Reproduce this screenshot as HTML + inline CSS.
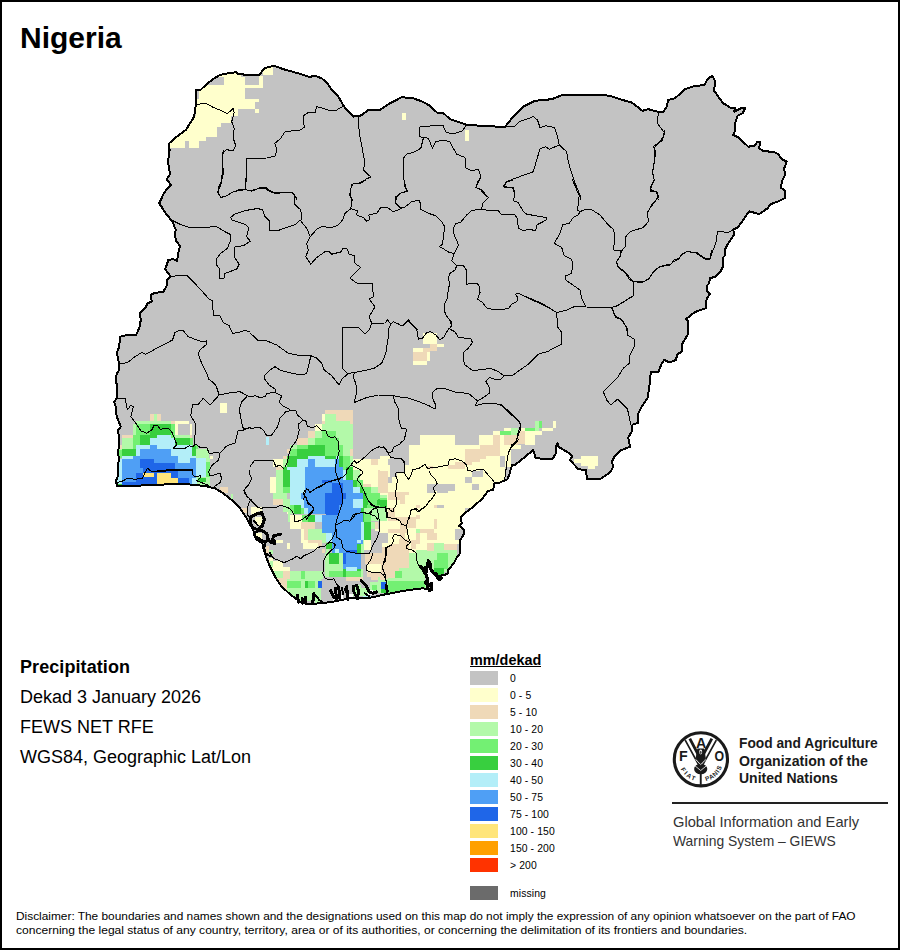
<!DOCTYPE html>
<html><head><meta charset="utf-8"><title>Nigeria</title>
<style>
html,body{margin:0;padding:0;background:#fff;}
body{width:900px;height:950px;position:relative;overflow:hidden;font-family:"Liberation Sans",sans-serif;color:#000;}
.frame{position:absolute;left:0;top:0;width:896px;height:946px;border:2px solid #000;}
.t{position:absolute;white-space:nowrap;}
.title{left:20px;top:19.5px;font-size:30px;font-weight:bold;line-height:36px;}
.info{left:20px;font-size:18px;line-height:22px;letter-spacing:0;}
.lh{left:470px;top:652px;font-size:14.4px;font-weight:bold;line-height:16px;}
.lhu{position:absolute;left:470px;top:666px;width:71px;height:1px;background:#000;}
.sw{position:absolute;left:470px;width:28px;height:14px;}
.ll{position:absolute;left:510px;font-size:10.4px;letter-spacing:0.1px;line-height:13px;white-space:nowrap;}
.fao{left:739px;font-size:14px;font-weight:bold;line-height:18px;color:#1a1a1a;transform-origin:0 0;}
.gi{left:672.8px;font-size:14.6px;line-height:18px;color:#333;transform-origin:0 0;}
.rule{position:absolute;left:672px;top:802px;width:216px;height:2px;background:#222;}
.disc{left:15px;font-size:11px;line-height:14px;color:#000;transform-origin:0 0;}
svg{position:absolute;left:0;top:0;}
</style></head><body>
<svg width="900" height="950" viewBox="0 0 900 950">
<defs><clipPath id="cp"><path d="M116.7 486.3 L116.3 480 L118.3 475 L117.5 466.7 L119.2 458.3 L117.5 453.3 L119.2 446.7 L118.3 430 L120.8 426.7 L116.7 416.7 L115.8 406.7 L114.2 401.7 L116.7 398.3 L117.5 388.3 L115.8 380 L116.7 373.3 L119.2 370 L118.3 358.3 L116.7 353.3 L119.2 346.7 L120 336.7 L127.5 335 L135.8 335.3 L139.2 328.3 L140.8 320 L140 313.3 L145 308.3 L147.5 303.3 L151.7 301.7 L150.8 295 L154.2 293 L163.3 291.7 L166.7 285.8 L167.5 279.2 L170 276.7 L169.2 274.2 L165 269.2 L166.7 265 L168.3 260 L173.3 259.2 L177 260.8 L178.3 253.3 L180 245.8 L175.8 240.8 L175 233.3 L175.8 230 L172.5 221.7 L165.8 213.3 L159.2 203.3 L164.2 192.5 L170.8 185 L166.7 179.2 L170 174.2 L168 161.7 L169.7 150 L168.7 150 L169.2 143.3 L176.7 136.7 L185.8 130 L194.2 116.7 L195.8 105 L195.8 90 L200.8 89.7 L207.5 83.3 L214.2 78.3 L220 75 L228.3 73.3 L236.7 72.2 L238.3 74.2 L246.7 74.7 L259.2 74.7 L265 68 L274.2 65.8 L283.3 69.2 L300 73.8 L309.2 77 L315 75.8 L321.7 78.3 L327.5 83.3 L331.7 90 L338.3 96.7 L344.2 106.7 L353.3 116.7 L361.7 115.3 L368.3 109.7 L380 109.7 L390 103.3 L401.7 97.2 L413.3 98.3 L421.7 101.3 L430 105.8 L437.5 113 L443.3 113 L450 119.2 L465.8 124.5 L485 126.3 L505 126.7 L513.3 116.7 L523.3 106.7 L535 100.8 L551.7 99.2 L561.7 95.3 L576.7 94.7 L600 94.7 L610 95.8 L620 99.2 L631.7 102.5 L642.5 110.8 L648.3 109.2 L657.5 111.7 L663.3 111.7 L666.7 106.7 L668.3 100 L675 98.3 L685 89.2 L693.3 86.3 L704.2 85 L708.3 78.3 L712.5 75.8 L715 80.8 L714.2 90.8 L718.3 96.7 L723.3 103.3 L730 107.5 L735 108.3 L734.2 111.7 L740.8 108.3 L745 108.3 L742.5 113.3 L737.5 115.8 L735 123.3 L734.7 131.7 L733.3 135 L738.3 137.5 L748.3 146.7 L754.2 145.8 L757.5 141.7 L760 142 L759.2 148.3 L763.3 151.3 L773.3 151.7 L778.3 154.2 L781.7 159.2 L786.7 161.7 L784.2 168.3 L785 175 L782.5 180 L780.8 187.5 L785 190.8 L784.7 198.3 L778.3 201.3 L770.8 204.2 L767.5 208.3 L759.2 214.2 L749.2 211.2 L743.3 220 L737.5 227.5 L733.3 229.7 L734.2 234.2 L728.3 243.3 L725 249.2 L725.3 255 L722.5 258.3 L723 266.7 L720 272.5 L715 276.7 L710 278.3 L709.2 283.3 L706.7 285.8 L706.7 290.8 L710 294.2 L706.7 298.3 L705.8 308.3 L695 312 L685.8 319.2 L688.3 321.7 L687.5 335 L682.5 343.3 L681.7 351.7 L677.5 354.2 L675.8 360 L670 362.5 L664.2 360 L661.7 363.3 L658.3 372.5 L650.8 371.7 L649.2 388.3 L647.5 396.7 L648.3 396.7 L641.7 406.7 L637.5 415 L638 423 L632.5 424.7 L631.7 431.7 L628.3 437.5 L630 446.7 L620 450.8 L615 455.8 L611.7 461.7 L613.3 466.7 L610 472.5 L605 475.8 L600 479.2 L586.7 479.2 L586.3 470 L578.3 469.2 L570 460 L572.5 455.8 L566.7 451.7 L558.3 446.7 L557.5 443 L555.8 446.7 L555.8 453.3 L552.5 459.2 L535.8 458.3 L533.3 450 L523.3 458.3 L515 465 L512 465 L509.2 475 L507.5 479.2 L500 482.5 L494.2 483.3 L493.3 490 L488.3 490.8 L481.7 499.2 L473.3 506.7 L466.7 511.7 L460.8 517.5 L461.7 523.3 L459.2 525.8 L464.2 530 L463.3 535.8 L460 540 L460 553.3 L456.7 557.5 L454.2 562.5 L448.3 570 L447.5 574.2 L442.5 575 L436.7 576.7 L431.7 571.7 L430 563.3 L428.3 560.8 L427.5 566.7 L421.7 568.3 L424.2 573.3 L428.3 578.3 L427.5 583.3 L431.7 585 L431.7 590 L423.3 588.3 L408.3 590 L390.8 593.3 L385.8 594.2 L375 596.7 L366.7 598.3 L355 598.3 L350 598.3 L333.3 601.7 L320 603.3 L306.7 604.2 L300 601.7 L290 594.2 L281.7 586.7 L275 576.7 L270 566.7 L266.7 558.3 L263.3 548.3 L261.7 540 L255 535.8 L253.3 530 L249.2 523.3 L246.7 518.3 L240 508.3 L231.7 500 L223.3 493.3 L215 488.3 L203.3 485.8 L186.7 484.2 L170 484.2 L155 485 L133.3 485.8 L116.7 486.3 Z"/></clipPath></defs>
<path d="M116.7 486.3 L116.3 480 L118.3 475 L117.5 466.7 L119.2 458.3 L117.5 453.3 L119.2 446.7 L118.3 430 L120.8 426.7 L116.7 416.7 L115.8 406.7 L114.2 401.7 L116.7 398.3 L117.5 388.3 L115.8 380 L116.7 373.3 L119.2 370 L118.3 358.3 L116.7 353.3 L119.2 346.7 L120 336.7 L127.5 335 L135.8 335.3 L139.2 328.3 L140.8 320 L140 313.3 L145 308.3 L147.5 303.3 L151.7 301.7 L150.8 295 L154.2 293 L163.3 291.7 L166.7 285.8 L167.5 279.2 L170 276.7 L169.2 274.2 L165 269.2 L166.7 265 L168.3 260 L173.3 259.2 L177 260.8 L178.3 253.3 L180 245.8 L175.8 240.8 L175 233.3 L175.8 230 L172.5 221.7 L165.8 213.3 L159.2 203.3 L164.2 192.5 L170.8 185 L166.7 179.2 L170 174.2 L168 161.7 L169.7 150 L168.7 150 L169.2 143.3 L176.7 136.7 L185.8 130 L194.2 116.7 L195.8 105 L195.8 90 L200.8 89.7 L207.5 83.3 L214.2 78.3 L220 75 L228.3 73.3 L236.7 72.2 L238.3 74.2 L246.7 74.7 L259.2 74.7 L265 68 L274.2 65.8 L283.3 69.2 L300 73.8 L309.2 77 L315 75.8 L321.7 78.3 L327.5 83.3 L331.7 90 L338.3 96.7 L344.2 106.7 L353.3 116.7 L361.7 115.3 L368.3 109.7 L380 109.7 L390 103.3 L401.7 97.2 L413.3 98.3 L421.7 101.3 L430 105.8 L437.5 113 L443.3 113 L450 119.2 L465.8 124.5 L485 126.3 L505 126.7 L513.3 116.7 L523.3 106.7 L535 100.8 L551.7 99.2 L561.7 95.3 L576.7 94.7 L600 94.7 L610 95.8 L620 99.2 L631.7 102.5 L642.5 110.8 L648.3 109.2 L657.5 111.7 L663.3 111.7 L666.7 106.7 L668.3 100 L675 98.3 L685 89.2 L693.3 86.3 L704.2 85 L708.3 78.3 L712.5 75.8 L715 80.8 L714.2 90.8 L718.3 96.7 L723.3 103.3 L730 107.5 L735 108.3 L734.2 111.7 L740.8 108.3 L745 108.3 L742.5 113.3 L737.5 115.8 L735 123.3 L734.7 131.7 L733.3 135 L738.3 137.5 L748.3 146.7 L754.2 145.8 L757.5 141.7 L760 142 L759.2 148.3 L763.3 151.3 L773.3 151.7 L778.3 154.2 L781.7 159.2 L786.7 161.7 L784.2 168.3 L785 175 L782.5 180 L780.8 187.5 L785 190.8 L784.7 198.3 L778.3 201.3 L770.8 204.2 L767.5 208.3 L759.2 214.2 L749.2 211.2 L743.3 220 L737.5 227.5 L733.3 229.7 L734.2 234.2 L728.3 243.3 L725 249.2 L725.3 255 L722.5 258.3 L723 266.7 L720 272.5 L715 276.7 L710 278.3 L709.2 283.3 L706.7 285.8 L706.7 290.8 L710 294.2 L706.7 298.3 L705.8 308.3 L695 312 L685.8 319.2 L688.3 321.7 L687.5 335 L682.5 343.3 L681.7 351.7 L677.5 354.2 L675.8 360 L670 362.5 L664.2 360 L661.7 363.3 L658.3 372.5 L650.8 371.7 L649.2 388.3 L647.5 396.7 L648.3 396.7 L641.7 406.7 L637.5 415 L638 423 L632.5 424.7 L631.7 431.7 L628.3 437.5 L630 446.7 L620 450.8 L615 455.8 L611.7 461.7 L613.3 466.7 L610 472.5 L605 475.8 L600 479.2 L586.7 479.2 L586.3 470 L578.3 469.2 L570 460 L572.5 455.8 L566.7 451.7 L558.3 446.7 L557.5 443 L555.8 446.7 L555.8 453.3 L552.5 459.2 L535.8 458.3 L533.3 450 L523.3 458.3 L515 465 L512 465 L509.2 475 L507.5 479.2 L500 482.5 L494.2 483.3 L493.3 490 L488.3 490.8 L481.7 499.2 L473.3 506.7 L466.7 511.7 L460.8 517.5 L461.7 523.3 L459.2 525.8 L464.2 530 L463.3 535.8 L460 540 L460 553.3 L456.7 557.5 L454.2 562.5 L448.3 570 L447.5 574.2 L442.5 575 L436.7 576.7 L431.7 571.7 L430 563.3 L428.3 560.8 L427.5 566.7 L421.7 568.3 L424.2 573.3 L428.3 578.3 L427.5 583.3 L431.7 585 L431.7 590 L423.3 588.3 L408.3 590 L390.8 593.3 L385.8 594.2 L375 596.7 L366.7 598.3 L355 598.3 L350 598.3 L333.3 601.7 L320 603.3 L306.7 604.2 L300 601.7 L290 594.2 L281.7 586.7 L275 576.7 L270 566.7 L266.7 558.3 L263.3 548.3 L261.7 540 L255 535.8 L253.3 530 L249.2 523.3 L246.7 518.3 L240 508.3 L231.7 500 L223.3 493.3 L215 488.3 L203.3 485.8 L186.7 484.2 L170 484.2 L155 485 L133.3 485.8 L116.7 486.3 Z" fill="#c3c3c3"/>
<g clip-path="url(#cp)" shape-rendering="crispEdges">
<path d="M136 421H171.3V424.3H136ZM122 437.7H133.3V449H122ZM196 449H206V458.3H196ZM206 458.3H210V486.3H206ZM154 414.3H157.3V421H154ZM119.3 449H122V458.3H119.3ZM195.3 477H206V486.3H195.3ZM175.3 435H190V438.3H175.3ZM133.3 424.3H136V435H133.3ZM206 449H209.3V458.3H206Z" fill="#b3f9a9"/>
<path d="M150 414.3H154V421H150ZM157.3 414.3H160.7V421H157.3ZM171.3 421H174.7V424.3H171.3ZM122 435H133.3V437.7H122ZM190 435H192V438.3H190ZM119.3 445H122V449H119.3Z" fill="#efd9b8"/>
<path d="M174.7 421H188.7V424.3H174.7ZM175.3 424.3H178V435H175.3ZM190 424.3H192V435H190ZM210 455.7H213.3V459H210Z" fill="#ffffcc"/>
<path d="M136 424.3H150V435H136ZM133.3 435H140V445H133.3ZM171.3 424.3H175.3V438.3H171.3ZM190 438.3H192.7V446.3H190ZM206 462.3H210V477H206ZM195.3 445H198V449H195.3ZM133.3 445H136V449H133.3ZM119.3 450.3H122V458.3H119.3Z" fill="#73f073"/>
<path d="M150 424.3H171.3V430.3H150ZM150 430.3H156.7V438.3H150ZM140 435H150V445H140ZM156.7 430.3H171.3V435H156.7ZM122 449H136V456.3H122ZM175.3 438.3H190V445H175.3ZM192 446.3H196V456.3H192ZM198 477.7H206V482.3H198ZM116.7 483.7H122V486.3H116.7Z" fill="#38cf3f"/>
<path d="M150 438.3H156.7V445H150ZM156.7 435H171.3V445H156.7ZM171.3 438.3H175.3V449H171.3ZM136 445H150V449H136ZM136 449H140V456.3H136ZM122 456.3H133.3V459H122ZM171.3 445H192V456.3H171.3ZM192 456.3H196V458.3H192ZM178 456.3H190V463H178ZM196 458.3H206V477H196ZM116.7 459H122V483.7H116.7ZM192 477.7H196.7V483.7H192ZM156.7 445H171.3V449H156.7Z" fill="#b3eef8"/>
<path d="M150 445H156.7V449H150ZM140 449H171.3V456.3H140ZM133.3 456.3H178V459H133.3ZM122 459H140V482.3H122ZM154 459H178V463H154ZM175.3 463H196V477.7H175.3ZM190 458.3H196V463H190ZM140 467.7H143.3V473H140ZM188.7 477.7H192V483.7H188.7Z" fill="#4f9ff5"/>
<path d="M140 459H154V467.7H140ZM154 463H175.3V470.3H154ZM143.3 467.7H154V473H143.3ZM136 473H143.3V485.7H136ZM143.3 477H157.3V485.7H143.3ZM171.3 470.3H178V477.7H171.3ZM178 477.7H188.7V483.7H178ZM122 482.3H157.3V486.3H122ZM154 470.3H171.3V473H154Z" fill="#1f66e8"/>
<path d="M143.3 473H154V477H143.3ZM157.3 473H171.3V483.7H157.3ZM171.3 477.7H178V483.7H171.3Z" fill="#ffe57a"/>
<path d="M154 473H157.3V477H154Z" fill="#1f66e8"/>
<path d="M190 456.3H192V458.3H190Z" fill="#b3eef8"/>
<path d="M220 402.5H227V413.3H220Z" fill="#ffffcc"/>
<path d="M220 486.7H227.5V493.3H220ZM241.7 507.5H247.5V513.3H241.7Z" fill="#efd9b8"/>
<path d="M230.8 494.2H233.3V500H230.8Z" fill="#b3f9a9"/>
<path d="M352.7 459.3H390V485.3H352.7ZM381.3 456H390V459.3H381.3ZM363.3 485.3H378V488H363.3Z" fill="#ffffcc"/>
<path d="M371.3 459.3H378V465.3H371.3ZM378 470H381.3V482.7H378ZM388 477.3H390V484H388ZM363.3 484H371.3V486.7H363.3ZM378 482.7H387.3V493.3H378Z" fill="#efd9b8"/>
<path d="M388 459.3H390V465.3H388Z" fill="#c3c3c3"/>
<path d="M325.3 414H352.7V456H325.3ZM322 424H352.7V430.7H322ZM315.3 430.7H352.7V445.3H315.3ZM308 438H315.3V445.3H308ZM290 445.3H297.3V456H290ZM283.3 456H290V466.7H283.3ZM276 466.7H283.3V498.7H276ZM272.7 493.3H286.7V498.7H272.7ZM283.3 498.7H290V512H283.3ZM342.7 445.3H352.7V459.3H342.7ZM350 459.3H352.7V466.7H350ZM352.7 470H356.7V480H352.7ZM371.3 486.7H378V493.3H371.3ZM380.7 493.3H387.3V498.7H380.7ZM290 512H294V520H290ZM363.3 512H376.7V520H363.3ZM356.7 470H360V480H356.7Z" fill="#b3f9a9"/>
<path d="M322 414H325.3V420.7H322ZM314.7 424H322V430.7H314.7ZM272.7 459.3H283.3V466.7H272.7ZM270 477.3H276V493.3H270ZM286.7 512H290V520H286.7ZM297.3 514.7H301.3V520H297.3Z" fill="#ffffcc"/>
<path d="M325.3 410H352.7V414H325.3ZM336 414H352.7V420.7H336ZM350 420.7H352.7V424H350ZM322 420.7H325.3V424H322ZM308 430.7H315.3V438H308ZM297.3 438H308V445.3H297.3ZM287.3 449.3H290V452.7H287.3ZM283.3 456H287.3V459.3H283.3ZM350 449.3H352.7V456H350ZM276 466.7H283.3V470H276ZM272.7 498.7H283.3V505.3H272.7Z" fill="#efd9b8"/>
<path d="M322 430.7H336V438H322ZM315.3 438H339.3V445.3H315.3ZM297.3 445.3H308V449.3H297.3ZM290 449.3H297.3V456H290ZM325.3 445.3H342.7V456H325.3ZM342.7 456H350V466.7H342.7ZM342.7 466.7H346V470H342.7ZM356.7 480H363.3V486.7H356.7ZM363.3 486.7H371.3V493.3H363.3ZM367.3 493.3H380.7V498.7H367.3ZM368 498.7H387.3V505.3H368ZM367.3 505.3H376.7V512H367.3ZM290 505.3H300.7V512H290ZM294 512H301.3V514.7H294ZM294 514.7H297.3V520H294ZM283.3 486.7H290V493.3H283.3ZM376.7 505.3H387.3V512H376.7Z" fill="#73f073"/>
<path d="M308 445.3H325.3V456H308ZM297.3 449.3H308V456H297.3ZM287.3 456H308V459.3H287.3ZM287.3 459.3H297.3V466.7H287.3ZM283.3 466.7H287.3V486.7H283.3ZM287.3 470H290V486.7H287.3ZM325.3 456H336V459.3H325.3ZM339.3 456H342.7V466.7H339.3ZM346 466.7H352.7V480H346ZM352.7 480H356.7V486.7H352.7ZM360 486.7H363.3V493.3H360ZM363.3 493.3H367.3V498.7H363.3ZM363.3 498.7H368V505.3H363.3ZM360.7 505.3H367.3V512H360.7ZM378 498.7H380.7V505.3H378ZM308 514.7H315.3V520H308ZM360.7 512H363.3V520H360.7Z" fill="#38cf3f"/>
<path d="M308 456H325.3V459.3H308ZM297.3 459.3H308V466.7H297.3ZM315.3 459.3H335.3V466.7H315.3ZM287.3 466.7H304.7V470H287.3ZM290 470H308V480H290ZM290 480H304.7V498.7H290ZM290 498.7H304V505.3H290ZM300.7 505.3H304V512H300.7ZM304 512H308V520H304ZM315.3 514.7H322V520H315.3ZM336 456H339.3V459.3H336ZM339.3 466.7H342.7V470H339.3ZM342.7 470H346V480H342.7ZM346 480H352.7V483.3H346ZM352.7 486.7H360V493.3H352.7ZM352.7 498.7H363.3V508H352.7Z" fill="#b3eef8"/>
<path d="M308 459.3H315.3V466.7H308ZM304.7 466.7H342.7V480H304.7ZM335.3 459.3H339.3V466.7H335.3ZM304.7 480H352.7V486.7H304.7ZM304.7 486.7H352.7V498.7H304.7ZM301.3 493.3H304.7V498.7H301.3ZM304 498.7H352.7V520H304ZM352.7 493.3H363.3V498.7H352.7ZM352.7 508H360.7V520H352.7Z" fill="#4f9ff5"/>
<path d="M322 480H332V483.3H322ZM332 483.3H342.7V493.3H332ZM325.3 493.3H346V498.7H325.3ZM325.3 498.7H342.7V505.3H325.3ZM325.3 505.3H339.3V520H325.3Z" fill="#1f66e8"/>
<path d="M308 514.7H315.3V520H308Z" fill="#38cf3f"/>
<path d="M315.3 514.7H322V520H315.3Z" fill="#b3eef8"/>
<path d="M287.3 514.7H301.3V540H287.3ZM301.3 528.7H323.3V549.3H301.3ZM287.3 542.7H290V549.3H287.3ZM278 539.3H283.3V542.7H278ZM270 560.7H290V570.7H270ZM363.3 540H371.3V550H363.3ZM374.7 528.7H379.3V537.3H374.7ZM380.7 538.7H390V549.3H380.7ZM387.3 517.3H390V533.3H387.3ZM367.3 564H380.7V572H367.3Z" fill="#ffffcc"/>
<path d="M272.7 500H283.3V505.3H272.7ZM301.3 522H315.3V528.7H301.3ZM308 540H318V543.3H308ZM283.3 570.7H290V578.7H283.3ZM276 578H287.3V592H276ZM301.3 588.7H308V593.3H301.3ZM328.7 567.3H339.3V570.7H328.7ZM346 577.3H363.3V581.3H346ZM364.7 553.3H390V564H364.7ZM380.7 564H390V580H380.7ZM371.3 522H378V528.7H371.3ZM322 549.3H325.3V553.3H322ZM387.3 505.3H390V517.3H387.3ZM367.3 572H380.7V580H367.3ZM384.7 548H390V556H384.7Z" fill="#efd9b8"/>
<path d="M308 528.7H322V540H308ZM270 570.7H283.3V578H270ZM290 570.7H323.3V578.7H290ZM287.3 578.7H323.3V601.3H287.3ZM283.3 592H287.3V598.7H283.3ZM325.3 553.3H342.7V577.3H325.3ZM342.7 569.3H363.3V577.3H342.7ZM363.3 508H380.7V521.3H363.3ZM380.7 513.3H387.3V521.3H380.7ZM360.7 540H364V553.3H360.7ZM378 577.3H390V593.3H378ZM283.3 500H290V505.3H283.3ZM290 514.7H295.3V518.7H290ZM325.3 544H328.7V553.3H325.3ZM352.7 585.3H360.7V596H352.7ZM314.7 597.3H323.3V602.7H314.7ZM371.3 522H374.7V528.7H371.3Z" fill="#b3f9a9"/>
<path d="M287.3 581.3H301.3V588H287.3ZM308 581.3H315.3V588H308ZM328.7 570.7H342.7V577.3H328.7ZM346 570.7H360.7V577.3H346ZM364 513.3H371.3V522H364ZM290 505.3H294V508H290ZM301.3 508H304V518.7H301.3ZM301.3 514.7H308V518.7H301.3ZM380.7 500H387.3V513.3H380.7ZM378 585.3H387.3V593.3H378ZM301.3 570.7H304.7V578.7H301.3Z" fill="#73f073"/>
<path d="M294 505.3H301.3V514.7H294ZM308 514.7H315.3V522H308ZM322 522H325.3V540H322ZM328.7 553.3H339.3V564H328.7ZM304.7 581.3H308V588H304.7ZM364 522H371.3V540H364ZM360.7 508H364V522H360.7ZM357.3 542.7H360.7V553.3H357.3ZM342.7 564H346V577.3H342.7ZM325.3 542.7H332V549.3H325.3ZM357.3 567.3H360.7V570.7H357.3ZM376.7 500H380.7V505.3H376.7Z" fill="#38cf3f"/>
<path d="M371.3 530.7H380.7V553.3H371.3ZM380.7 533.3H387.3V538.7H380.7ZM283.3 550.7H323.3V570.7H283.3ZM320.7 578.7H336.7V601.3H320.7ZM339.3 577.3H346V582.7H339.3ZM363.3 577.3H371.3V582.7H363.3Z" fill="#c3c3c3"/>
<path d="M304 500H314V508H304ZM308 508H314V514.7H308ZM314 500H325.3V514.7H314ZM322 514.7H339.3V533.3H322ZM332 533.3H339.3V544H332ZM335.3 512H363.3V544H335.3ZM339.3 544H357.3V553.3H339.3ZM342.7 553.3H360.7V569.3H342.7ZM352.7 508H360.7V512H352.7Z" fill="#4f9ff5"/>
<path d="M290 500H304V505.3H290ZM304 508H308V514.7H304ZM352.7 500H363.3V508H352.7ZM315.3 514.7H322V522H315.3ZM325.3 533.3H332V541.3H325.3ZM360.7 522H364V540H360.7ZM332.7 549.3H339.3V553.3H332.7ZM346 567.3H356.7V570.7H346ZM357.3 540H360.7V542.7H357.3Z" fill="#b3eef8"/>
<path d="M325.3 500H339.3V514.7H325.3ZM342.7 553.3H346V564H342.7ZM346 550H356.7V553.3H346ZM318 581.3H322V588H318ZM381.3 582H387.3V588.7H381.3Z" fill="#1f66e8"/>
<path d="M332 533.3H339.3V549.3H332Z" fill="#4f9ff5"/>
<path d="M420 435.3H454.7V446H420ZM408.7 445.3H465.3V520H408.7ZM462.7 448.7H479.3V520H462.7ZM465.3 445.3H479.3V448.7H465.3ZM479.3 435.3H493.3V520H479.3ZM493.3 431.3H500V482.7H493.3ZM405.3 465.3H408.7V520H405.3ZM397.3 472.7H405.3V520H397.3ZM380 456H388V520H380ZM388 486.7H397.3V520H388ZM388 483.3H397.3V486.7H388ZM392 476.7H397.3V483.3H392Z" fill="#ffffcc"/>
<path d="M465.3 448.7H493.3V458.7H465.3ZM493.3 435.3H500V453.3H493.3ZM486 445.3H493.3V448.7H486ZM472 458.7H486V462H472ZM465.3 458.7H472V465.3H465.3ZM455.3 462H465.3V469.3H455.3ZM448 465.3H455.3V469.3H448ZM428 466H433.3V469.3H428ZM380 470.7H388V493.3H380ZM388 492H397.3V505.3H388ZM397.3 492H408.7V494.7H397.3ZM397.3 494.7H405.3V505.3H397.3ZM416 505.3H420V508H416ZM434 505.3H437.3V508H434ZM416 514.7H420V518.7H416ZM388 512H394.7V520H388Z" fill="#efd9b8"/>
<path d="M427.3 484H434.7V493.3H427.3ZM434.7 484H454.7V490.7H434.7ZM437.3 490.7H448V493.3H437.3ZM465.3 477.3H472V483.3H465.3ZM472 470.7H482.7V476.7H472ZM472 484H478.7V490H472ZM437.3 505.3H444V508H437.3ZM465.3 508H468.7V511.3H465.3ZM388 477.3H392V483.3H388Z" fill="#c3c3c3"/>
<path d="M380 494.7H387.3V498H380ZM380 508H387.3V520H380Z" fill="#b3f9a9"/>
<path d="M380 498H387.3V501.3H380Z" fill="#73f073"/>
<path d="M380 501.3H387.3V508H380Z" fill="#38cf3f"/>
<path d="M387.3 500H481.3V544H387.3ZM380 521.3H388V532.7H380ZM416 544H426.7V550H416ZM434 540H444V544H434ZM408.7 544H416V553.3H408.7Z" fill="#ffffcc"/>
<path d="M388 508H394.7V517.3H388ZM388 517.3H406.7V521.3H388ZM400 521.3H406.7V533.3H400ZM406.7 517.3H416V528H406.7ZM416 514.7H420V518.7H416ZM434 519.3H437.3V528.7H434ZM420 528.7H434V533.3H420ZM426.7 533.3H437.3V540H426.7ZM416 533.3H420V544H416ZM410.7 540H416V549.3H410.7ZM426.7 542.7H434V549.3H426.7ZM444 544H457.3V553.3H444ZM434 504.7H437.3V508H434ZM416 504.7H420V508H416ZM388 528.7H400V533.3H388ZM400 533.3H405.3V538.7H400ZM386 546.7H408.7V578.7H386ZM398.7 538.7H408.7V546.7H398.7ZM380 572H386V580H380ZM400 500H405.3V504H400Z" fill="#efd9b8"/>
<path d="M380 532.7H388V542.7H380ZM380 542.7H382V553.3H380ZM437.3 504.7H444V508H437.3ZM465.3 508H468.7V511.3H465.3ZM455.3 528.7H463.3V540H455.3Z" fill="#c3c3c3"/>
<path d="M380 508H387.3V521.3H380ZM416 528.7H420V532.7H416ZM434 542.7H444V553.3H434ZM420 550H457.3V560H420ZM416 553.3H433.3V569.3H416ZM408.7 553.3H425.3V582.7H408.7ZM398.7 568H425.3V582.7H398.7ZM388 578H398.7V582H388ZM433.3 560H454.7V572H433.3ZM422.7 580H428V588H422.7Z" fill="#b3f9a9"/>
<path d="M437.3 553.3H448V560H437.3ZM434 560H448V569.3H434ZM388 581.3H425.3V589.3H388ZM394.7 570.7H402V578H394.7ZM380 506.7H387.3V508H380Z" fill="#73f073"/>
<path d="M434 568H444V574.7H434ZM380 588.7H386.7V593.3H380ZM380 500H387.3V506.7H380Z" fill="#38cf3f"/>
<path d="M381.3 582H387.3V588.7H381.3Z" fill="#1f66e8"/>
<path d="M390 544H398.7V546.7H390ZM382 546.7H386V553.3H382ZM426.7 548.7H434V550.7H426.7Z" fill="#efd9b8"/>
<path d="M416 550H420V553.3H416Z" fill="#b3f9a9"/>
<path d="M382 542.7H386V546.7H382Z" fill="#ffffcc"/>
<path d="M388 588.7H425.3V593.3H388Z" fill="#73f073"/>
<path d="M493.3 431.3H500V434.7H493.3ZM504 428H511.3V431.3H504ZM480 434.7H493.3V445.3H480ZM500 434.7H504V445.3H500ZM521.3 428H525.3V431.3H521.3ZM525.3 431.3H542V434.7H525.3ZM525.3 434.7H534.7V445.3H525.3ZM542 428H553.3V431.3H542ZM552.7 420.7H556V428H552.7ZM511.3 445.3H521.3V448.7H511.3ZM500 448.7H511.3V456H500ZM486 456H500V466.7H486ZM505.3 456H511.3V466.7H505.3ZM480 458.7H486V469.3H480ZM480 466.7H505.3V480H480ZM493.3 477.3H505.3V482.7H493.3ZM480 477.3H493.3V500H480ZM574 458.7H581.3V462.7H574ZM581.3 456H598V466H581.3ZM588 466H594.7V469.3H588Z" fill="#ffffcc"/>
<path d="M493.3 434.7H500V445.3H493.3ZM504 434.7H518V445.3H504ZM518 431.3H525.3V444H518ZM480 445.3H500V456H480ZM480 456H486V458.7H480Z" fill="#efd9b8"/>
<path d="M500 431.3H511.3V434.7H500ZM525.3 428H534.7V431.3H525.3ZM538.7 421.3H542V428H538.7Z" fill="#73f073"/>
<path d="M511.3 428H518V434.7H511.3ZM535.3 421.3H538.7V430.7H535.3Z" fill="#b3f9a9"/>
<path d="M480 470H482.7V476.7H480ZM504.7 470H509.3V478.7H504.7Z" fill="#c3c3c3"/>
<path d="M423.3 332.5H436.7V344.2H423.3ZM436.7 344.2H444.2V346.7H436.7ZM413.3 347.5H423.3V351.7H413.3ZM413.3 360.8H426.7V365H413.3ZM426.7 351.7H430V360.8H426.7Z" fill="#ffffcc"/>
<path d="M430 344.2H436.7V350.8H430ZM423.3 347.5H430V351.7H423.3ZM413.3 351.7H426.7V360.8H413.3Z" fill="#efd9b8"/>
<path d="M402 113H406V120H402Z" fill="#ffffcc"/>
<path d="M465 130H469.2V140.8H465Z" fill="#ffffcc"/>
<path d="M224 73.3H245.3V106H224ZM198.7 84.7H224V106H198.7ZM196 99.3H198.7V106H196ZM245.3 84.7H259.3V88H245.3ZM245.3 98.7H259.3V102H245.3ZM245.3 102H255.3V109.3H245.3ZM255.3 108.7H259.3V113.3H255.3ZM259.3 76H262.7V88H259.3ZM262.7 66.7H273.3V74.7H262.7ZM196 106H241.3V109.3H196ZM196 109.3H238V116H196ZM190.7 116H230.7V122.7H190.7ZM180 122.7H220.7V126.7H180ZM173.3 126.7H217.3V137.3H173.3ZM168 137.3H206V140.7H168ZM168 140.7H184.7V148H168ZM188.7 140.7H199.3V148H188.7ZM200 80H224V84.7H200ZM213.3 73.3H224V80H213.3Z" fill="#ffffcc"/>
<path d="M241.3 74.7H245.3V77.3H241.3ZM213.3 77.3H224V84.7H213.3ZM200 80H213.3V84.7H200Z" fill="#c3c3c3"/>
<path d="M241.3 106H245.3V109.3H241.3Z" fill="#ffffcc"/>
<path d="M268.3 514H325.7V552.7H268.3ZM268.3 552.7H284.3V560.7H268.3Z" fill="#c3c3c3"/>
<path d="M251 507.3H257.7V514H251ZM257.7 507.3H261.7V511.3H257.7ZM255 516.7H261.7V524.7H255ZM255 532.7H261.7V539.3H255ZM287 542.7H290.3V549.3H287ZM276.3 540H283V542.7H276.3ZM290.3 522H301.7V528.7H290.3ZM297.7 515.3H301.7V522H297.7ZM303 540H308.3V549.3H303ZM308.3 543.3H317.7V549.3H308.3ZM301 528.7H303.7V543.3H301ZM272.3 562H283V571.3H272.3ZM283 567.3H289.7V571.3H283ZM269 558H273V562H269ZM290.3 515.3H297.7V522H290.3Z" fill="#ffffcc"/>
<path d="M301 522H315V528.7H301ZM303.7 528.7H308.3V540H303.7ZM308.3 540H321.7V543.3H308.3ZM317.7 543.3H321.7V546H317.7ZM265.7 546H269V552.7H265.7ZM241.7 508H247.7V511.3H241.7ZM322.3 549.3H325V552.7H322.3Z" fill="#efd9b8"/>
<path d="M308.3 528.7H321.7V540H308.3ZM269 550H273V554H269ZM269.7 560.7H273V567.3H269.7ZM321.7 522H325.7V543.3H321.7ZM287.7 511.3H290.3V522H287.7Z" fill="#b3f9a9"/>
<path d="M301.7 515.3H308.3V522H301.7Z" fill="#73f073"/>
<path d="M308.3 515.3H315V522H308.3ZM325.7 542.7H332.3V549.3H325.7Z" fill="#38cf3f"/>
<path d="M315 515.3H321.7V522H315ZM325.7 532.7H332.3V542H325.7Z" fill="#b3eef8"/>
<path d="M321.7 515.3H335V532.7H321.7ZM332.3 532.7H335V552.7H332.3Z" fill="#4f9ff5"/>
<path d="M266.3 437.3H269V444.7H266.3Z" fill="#b3eef8"/>
<path d="M370 581.7H380.8V593.3H370ZM360.8 587.5H370V595.8H360.8Z" fill="#b3f9a9"/>
<path d="M371.7 585H376.7V590H371.7Z" fill="#73f073"/>
<path d="M332.5 593.7H336.7V600.8H332.5ZM339.2 595.3H343.3V600.8H339.2ZM348.3 593.7H353.3V600H348.3ZM368.3 590H373.3V595H368.3Z" fill="#ffffff"/>
<path d="M363.3 596.3H371.7V598.3H363.3Z" fill="#b3eef8"/>
<path d="M500 445.3H511.3V448.7H500Z" fill="#ffffcc"/>
</g>
<g fill="none" stroke="#000" stroke-width="1" stroke-linejoin="round" stroke-linecap="round" shape-rendering="crispEdges">
<path d="M196.3 104.2 L206.7 103.7 L213.3 107.5 L221.7 110.8 L227.5 113.7 L233.3 108.3 L234.2 112.5 L231.7 121.7 L234.2 128.3 L233.3 138.3 L235.8 145.8 L233.3 150.8 L226.7 149.7 L223 152.5 L222.5 166.7 L221.7 180 L218.3 188.3 L218 193.3 L220.8 197.5 L225 196.7 L231.7 192.5 L238.3 190 L245.8 189.7 L251.7 191.3 L258.3 188.3 L265 188 L269.2 191.3 L276.7 193.3 L285 192.5 L291.7 192.5 L295.8 196.7 L296.7 200"/>
<path d="M245.8 189.7 L246.7 158.3 L266.7 158 L275.8 155.8 L276.3 148.3 L274.7 143.3 L280 139.2 L285 131.7 L293.3 130.8 L300 130.5"/>
<path d="M300 130 L304.2 127.5 L303.3 115.8 L307.5 113 L315 112.5 L316.7 106.7 L323.3 108.3 L330 110.8 L336.7 110 L343.7 105.8"/>
<path d="M359.2 115.8 L358.3 123.3 L360 136.7 L362.5 150 L365 163.3 L363.3 170 L370.8 177 L365.8 179.2 L360.8 183.3 L353.3 183.3 L350.8 188.3 L350 195 L352.5 200"/>
<path d="M450 133.3 L445.8 132 L443.3 125.8 L433.3 125.8 L420 126.7 L419.7 136.7 L428.3 138.3 L432.5 148.3 L435.8 141.7 L443.3 140 L450 141.7"/>
<path d="M423.3 138.3 L420.8 148.3 L415 151.7 L406.7 154.2 L403.3 158.3 L403.3 176.7 L406.7 190.8 L398.3 194.2 L395.8 200"/>
<path d="M450 133.3 L455 133.3 L462.5 130.8 L465.8 125.8"/>
<path d="M450 141.7 L452.5 146.7 L456.7 154.2 L465 157.5 L465 167.5 L471.7 170.8 L478.3 169.2 L480.8 176.7 L475.8 187.5 L481.7 190 L488.3 197.5 L485.8 200"/>
<path d="M505.8 126.7 L514.2 126.7 L519.2 121.7 L533.3 116.7 L537.5 120 L540 127.5 L545.8 125.8 L554.2 127.5 L556.7 133.3 L559.2 145 L549.2 149.2 L545.8 146.7 L540 148.7 L536.7 160 L533.3 171.7 L515 178.3 L506.7 181.7 L503.3 186.7 L512.5 187.5 L515 195 L513.3 200"/>
<path d="M559.2 145 L566.7 151.7 L568.3 161.7 L571.7 173.3 L575.8 185 L580 195 L580 200"/>
<path d="M658.3 111.7 L657.5 123.3 L664.2 132.5 L662.5 140 L654.2 147.5 L655 156.7 L652.5 173.3 L654.2 180 L650 189.2 L656.7 192.5 L658.3 200"/>
<path d="M664.2 130 L664.2 135 L660 141.7 L653.3 146.7 L655.8 151.7 L654.2 163.3 L652.5 171.7 L654.2 180 L650 188.3"/>
<path d="M650 191.7 L655.8 191.7 L658.3 196.7 L655 201.7 L650 208.3"/>
<path d="M733.3 230 L728.3 232.5 L717.5 231.3 L715.8 243.3 L711.7 253.3 L710 259.2 L705 259.2 L695 252.5 L686.7 251.7 L681.7 254.2 L679.2 258.3 L674.2 260 L670.8 264.2 L660 266.7 L655 270 L650 276.7"/>
<path d="M711.7 250 L710 258.3 L705 258.3 L696.7 252.5 L686.7 251.7 L681.7 255 L678.3 259.2 L673.3 261.7 L670 265 L660 266.7 L655 270 L648.3 279.2 L641.7 282.5 L633.3 281.7"/>
<path d="M620.8 250.8 L620.8 255 L616.7 261.7 L618.3 267.5 L625 272.5 L629.2 279.2 L633.3 281.7 L633.3 295.8 L617.5 305.8 L611.7 307.5 L600 307.5"/>
<path d="M611.7 307.5 L615.8 316.7 L621.7 319.2 L626.7 327.5 L627.5 335 L634.2 339.2 L635 345 L630 355 L629.2 363.3 L623.3 368.3 L617.5 377.5 L603.3 391.7"/>
<path d="M615 380 L603.3 391.7 L606.7 400 L610.8 405 L617.5 399.2 L627.5 409.2 L630.8 424.2"/>
<path d="M500 405.3 L502.5 405.8 L509.2 413.3 L518.3 420 L520.8 425 L517.5 435 L516.7 440.8 L511.7 445 L508.3 453.3 L506.7 463.3 L505 476.7 L504.2 480"/>
<path d="M170 276.7 L180 275.3 L186.7 275.3 L193.3 281.7 L201.7 290.8 L209.2 299.2 L212.5 300.8 L213.3 315.8 L220 315.8 L223.3 322.5 L229.2 325.8 L232.5 333.3 L238.3 332.5 L245 330.5 L250 331.7"/>
<path d="M119.2 364.2 L127.5 362.5 L135 356.7 L141.7 352.5 L145.8 354.2 L155 349.2 L163.3 345 L172.5 340 L175 332.5 L179.2 330.5 L183.3 330.8 L188.3 336.7 L196.7 340 L203.3 342 L206.7 340.8 L206.7 344.2 L200 350 L198.3 354.2 L201.7 363.3 L206.7 373.3 L209.2 380"/>
<path d="M173 220.8 L180 224.2 L187.5 227 L210 227 L216.7 226.7 L225 231.7 L230 234.2 L230 241.7 L227.5 248.3 L220.8 253.3 L216.7 258.3 L216.7 265 L220 269.2 L219.2 278 L224.2 278 L225 273.3 L236.7 269.2 L239.2 264.2 L234.2 256.7 L235 246.7 L243.3 245.8 L250.3 241.3 L246.7 236.7 L248.7 227.5 L245 224.2 L231.7 220 L230.8 217.5 L234.2 214.2 L246.7 210.3 L256.7 208.7 L262.5 209.2 L265 216.7 L269.2 220 L270 230.5 L280 230.5"/>
<path d="M223.3 150 L222.5 160 L223.3 173.3 L220.8 185 L217.5 192.5 L220.8 197.2 L225 196.7 L233.3 191.7 L245 189.7 L253.3 190.8 L259.2 188 L265.8 187.5 L271.7 191.7 L276.7 193 L280 192.5"/>
<path d="M246.2 175 L245.3 189.7"/>
<path d="M250 190.8 L256.7 189.2 L260 187.5 L265.8 187.5 L270 191.7 L275 193.3 L283.3 192.5 L291.7 192.5 L295 195 L294.7 204.2 L300.8 210 L302 220"/>
<path d="M250 210 L256.7 208.3 L262.5 210 L265 216.7 L269.2 220.8 L270 230 L279.2 230 L295 224.7 L300 220 L306.7 228.3 L310.3 236.7"/>
<path d="M310.3 236.7 L316.7 229.2 L321.7 226.7 L331.7 227.5 L338.3 225 L342.5 220 L345 213.3 L350.8 208.7 L352 200 L349.7 195 L351.7 184.2 L358.3 183.3 L365.8 180"/>
<path d="M350.8 208.7 L357.5 210.8 L356.7 215 L363.3 217.5 L366.7 221.3 L370 219.2 L368.7 215 L376.7 213.3 L380.8 207.5 L387.5 207.5 L393.3 211.7 L400 209.2"/>
<path d="M400 194.2 L395.8 196.7 L395.8 203.3 L400 207.5"/>
<path d="M310.3 236.7 L306.7 243.3 L308.3 250 L305.8 256.7 L310.8 264.2 L316.7 257.5 L325 251.7 L329.2 251.7 L331.7 254.2 L341.7 251.7 L342.5 248.3 L346.7 248.3 L349.2 254.2 L354.2 255.8 L355 263.3 L360.8 267.5 L350 278.3 L356.7 283 L372.5 283.7 L373.3 296.7 L369.2 299.2 L375 306.7 L369.2 316.7 L371.7 323.3 L369.2 330"/>
<path d="M371.7 323.3 L385 323 L387.5 320 L390.8 324.2 L393.3 321.7 L400 324.7"/>
<path d="M400 208.3 L404.2 207.5 L411.7 201.7 L419.2 200.3 L420.3 203.3 L420 209.2 L428.3 213.3 L435.8 215.8 L441.7 221.7 L444.7 226.7 L442.5 244.2 L439.2 246.7 L443.3 248.7 L449.2 252.5 L454.2 253.3"/>
<path d="M404.2 180 L405 186.7 L407.5 191.3 L400 193.3"/>
<path d="M454.2 253.3 L458.3 245.8 L457.5 241.7 L454.2 235.8 L453.3 228.3 L455.8 223.7 L460.8 222 L466.7 215 L471.7 210.5 L481.7 209.2 L482.5 203.3 L488.3 197.5 L482.5 192.5 L480.8 189.2 L475.8 187.5 L478.3 180"/>
<path d="M481.7 209.2 L490 210.8 L498.3 210.8 L501.7 214.7 L514.2 214.2 L517.5 218.3 L518.3 228.3 L523.3 230.8 L529.2 229.2 L535.8 230.8 L536.7 225 L546.3 220 L546.3 217.5 L526.7 214.2 L523.3 211.7 L518.3 202.5 L513.3 200.8 L515 193.3 L513.3 187.5 L504.2 187.5 L505.8 182.5 L513.3 180"/>
<path d="M454.2 253.3 L451.7 260.8 L456.7 265.8 L463.3 265.3 L466.3 270 L466.7 284.2 L476.7 283 L479.7 286.7 L480 292.5 L477.5 299.2 L482.5 302.5 L486.7 308 L495.8 310 L508.3 308.7 L511.7 304.2 L516.7 301.7 L518 297.5 L515 294.2 L518.3 293.3 L550 308.3"/>
<path d="M456.7 265.8 L455 270 L450 273.3 L448.3 278.3 L450 284.2 L448.3 288.3 L447.5 298.3 L445 303.3 L444.2 310 L445.8 315 L451.7 322.5 L450.8 326.7 L448.3 330"/>
<path d="M400 325.8 L403.3 325 L408.3 319.7 L412.5 325 L417.5 329.2"/>
<path d="M572.5 180 L579.2 195.8 L577.5 210 L580 211.7 L578.3 215 L573.3 217.5 L569.2 223.3 L562.5 225 L560 233.3 L554.2 243.3 L561.7 247.5 L564.2 255.8 L571.7 259.2 L572.5 265 L571.7 273.3 L565.8 275.8 L565.8 280 L580 290 L581.7 298.3 L585.8 307"/>
<path d="M580 211.7 L585.8 209.2 L591.7 209.7 L600 215 L608.3 225 L613.3 229.2 L614.7 235 L613.7 250 L621.7 250.8"/>
<path d="M654.2 180 L650 190 L656.7 191.7 L658.7 196.7 L651.7 205 L647.5 212.5 L648.3 221.7 L643.3 227.5 L630 231.7 L625.8 236.7 L625 246.7 L621.7 250.8 L620 256.7 L616.7 261.7 L617.5 266.7 L625 271.7 L630 278.3 L633.7 281.3 L643.3 282 L649.2 278.3 L653.3 272.5 L659.2 266.7 L670 264.2"/>
<path d="M633.7 281.3 L633.3 295.8 L616.7 305.8 L611.3 307.5"/>
<path d="M520 294.2 L541.7 303.3 L556.7 312.5 L566.7 310 L574.2 306.7 L585.8 307 L611.3 307.5 L615.8 317.5 L620.8 319.2 L626.7 327.5 L627.5 330"/>
<path d="M556.7 312.5 L557.5 326.7 L560 330"/>
<path d="M250 333.3 L254.2 336.7 L258.3 340.8 L266.7 340.8 L276.7 345 L288.3 353.3 L296.7 355 L310.8 355.8 L315.8 357.5 L321.7 363.3 L324.2 370 L331.7 375.8 L339.2 385 L341.7 379.2 L347.5 374.2"/>
<path d="M371.7 323.3 L369.2 330 L365 334.2 L358.3 327.5 L342.5 327.5 L342.5 368.3 L347.5 373.7 L363.3 370.8 L374.2 368.3 L381.7 363.3 L385.8 353.3 L388.3 336.7 L388.3 330 L390.8 324.2"/>
<path d="M310.8 355.8 L309.2 363.3 L306.7 373.3 L301.7 375 L288.3 372.5 L280 370 L275 366.7 L270 370 L265 375 L264.7 379.2 L269.2 385 L275 389.2 L275 392.5 L266.7 393.3 L265 396.7 L260 397.5 L255 395.8 L250 396.7"/>
<path d="M275 392.5 L281.7 395.8 L279.2 401.7 L282.5 405.8 L289.2 409.2 L290 410.8 L285.8 411.7 L280 418.3 L277.5 426.7 L271.7 435 L266.7 435.8 L263.3 430 L260 427.5 L250 428.3"/>
<path d="M289.2 410 L295.8 410.8 L297.5 415 L303.3 420 L305.8 420.8 L307.5 426.7 L313.3 427.5 L316.7 425.8 L321.7 430.8 L325.8 430.8 L328.3 436.7 L331.7 437.5 L335 436.7 L338.3 441.7 L339.2 451.7 L336.7 460 L335 470"/>
<path d="M303.3 420 L298.3 424.2 L299.2 430 L296.7 440 L290.8 448.3 L289.2 453.3 L287.5 461.7 L285 466.7"/>
<path d="M250 466.7 L255 460 L273.3 460 L275.8 466.7 L280 465 L283.3 468.3"/>
<path d="M354.2 373.3 L353.3 377.5 L355.8 383.3 L356.7 391.7 L354.2 402.5 L366.7 397.5 L378.3 395 L393.3 395.8 L400 396.7"/>
<path d="M393.3 395.8 L395 402.5 L398.3 408.3 L399.2 423.3"/>
<path d="M346.7 470 L354.2 460.8 L356.7 463.3 L363.3 458.3 L373.3 449.2 L379.2 446.7 L385 448.3 L388.3 452.5 L392.5 451.7 L393.3 447.5 L400 444.2"/>
<path d="M400 325 L403.3 325.8 L408.3 320.8 L412.5 325 L416.7 329.2 L418.3 339.2 L422.5 338.3 L426.7 332.5 L430.8 331.7 L435.8 335 L440 340 L444.2 336.7 L448.3 329.2 L451.7 326.7 L450 320"/>
<path d="M450 329.2 L455 331.7 L458.3 337.5 L470.8 338.7 L472.5 342.5 L468.3 348.3 L463.3 352.5 L463 359.2 L465 365 L471.7 370 L478.3 370 L490.8 368.3 L498.3 371.7 L504.2 375.8 L513.3 375 L520 370 L528.3 364.2 L538.3 354.2 L550 350.8"/>
<path d="M504.2 375.8 L500.8 379.2 L494.2 379.2 L489.2 377.5 L485.8 381.7 L490 388.3 L489.2 393.3 L483.3 397.5 L477.5 400.8 L475 405.8"/>
<path d="M477.5 400.8 L468.3 393.3 L456.7 392.5 L444.2 388.3 L437.5 388.3 L433 391.7 L432.5 398.3 L435.8 405 L435 409.2 L429.2 405.8 L419.2 401.7 L406.7 397.5 L400 397.2"/>
<path d="M475 405.8 L485 403.3 L493.3 403.3 L501.7 405 L508.3 410.8 L515 417.5 L520 423.3 L520.3 430 L517.5 436.7 L518.3 440 L511.7 446.7 L508.3 453.3 L506.7 463.3 L506.7 470"/>
<path d="M400 424.2 L401.7 428.3 L406.7 429.2 L404.2 440 L400 443.3"/>
<path d="M400 458.3 L404.2 461.7 L405 470"/>
<path d="M412.5 470 L419.2 468.3 L425 464.2 L427.5 468.3 L440 466.7 L448.3 465 L449.2 460 L455 458.7 L461.7 460.8 L466.7 465 L467.5 470"/>
</g>
<g fill="none" stroke="#000" stroke-linejoin="round" stroke-linecap="round" shape-rendering="crispEdges">
<path d="M114.2 401.7 L116.7 398.3 L125 398.3 L127.5 410 L130.8 405 L133.3 406.7 L130.8 416.7 L135.8 423.3 L140.8 430.8 L146.7 433.3 L151.7 430 L154.2 425 L157.5 425 L160 429.2 L168.3 428.3 L171.7 431.7 L175.8 441.7 L176.7 445 L173.3 448.3 L185 448.3 L189.2 445.8 L192.5 446.7 L195.8 444.2 L200 447.5 L206.7 447.5 L209.2 453.3 L218.3 452.5 L220 453.3 L225.8 446.7 L230.8 444.2 L235 443.3 L238.3 430 L243.7 430 L250 427.5" stroke-width="1"/>
<path d="M210 380 L215.8 385 L219.2 395 L210 405 L203.3 398.3 L198.3 404.2 L192.5 405 L190.8 415.8 L195.8 424.2 L195 435 L194.2 445 L195.8 444.2" stroke-width="1"/>
<path d="M219.2 395 L231.7 392.5 L240 391.7 L247.5 395.8 L241.7 401.7 L239.2 409.2 L241.7 422.5 L243.7 430" stroke-width="1"/>
<path d="M220 453.3 L218.7 460 L212 465.3 L208.7 472 L210 476 L220 473.3 L221.7 478.7 L220 482.7 L214 486.7" stroke-width="1"/>
<path d="M116.7 482.5 L123.3 480.8 L126.7 478.3 L135 479.2 L142.5 478.3 L145 472.5 L147.5 468.3 L151.7 471.7 L157.5 471.3" stroke-width="1"/>
<path d="M157.5 471 L175 470 L191.7 470" stroke-width="2"/>
<path d="M191.7 470 L193.3 475.8 L198.3 476.7 L200 475 L200 478.3 L196.7 480.8 L203.3 483.3 L208.3 485.3" stroke-width="1"/>
<path d="M247.5 395.8 L250 396.7" stroke-width="1"/>
<path d="M244.3 428.7 L250.3 427.5" stroke-width="1"/>
<path d="M249 470 L249.7 474 L251.7 478.7 L248.3 485.3 L245 488.7 L244.3 493.3 L247.7 497.3 L251.7 500" stroke-width="1"/>
<path d="M335 470 L336.5 474 L338 478.7" stroke-width="1"/>
<path d="M303.7 500 L305 493.3 L306.3 488.7 L310.3 492 L318.3 486.7 L327.7 482 L335.7 480 L340.7 478.7" stroke-width="1"/>
<path d="M338 478.7 L340.7 486.7 L342.7 496 L342.7 501.3" stroke-width="1"/>
<path d="M338 478.7 L332 480.7 L326 482.7 L322 486 L315.3 488.7 L310 492.7 L308 489.3 L304.7 490.7 L303.3 493.3 L306.7 498.7 L308 504 L311.3 505.3 L313.3 508 L312.7 512 L308.7 516 L306 520" stroke-width="1"/>
<path d="M338 478.7 L342.7 477.3 L346 474 L346.7 470" stroke-width="1"/>
<path d="M351.3 465.3 L356.7 468 L362 470.7 L362.7 473.3 L358.7 476.7 L357.3 480 L360.7 484 L363.3 489.3 L366 496 L368.7 501.3 L372.7 505.3 L376.7 506.7 L386 508 L390 508.7" stroke-width="1"/>
<path d="M376.7 506.7 L371.3 510.7 L370.7 514.7 L375.3 516 L378 520" stroke-width="1"/>
<path d="M351.3 520 L355.3 514.7 L360.7 512.7 L368.7 513.3 L370.7 514.7" stroke-width="1"/>
<path d="M306 500 L308.7 503.3 L312.7 506.7 L313.3 510 L308.7 514.7 L303.3 518.7 L298 521.3 L294.7 521.3 L294.7 516 L292 511.3 L288.7 508 L280.7 505.3 L275.3 508 L270 507.3" stroke-width="1"/>
<path d="M342.7 501.3 L340.7 508 L338 516 L335.3 525.3 L336 529.3 L334 534.7 L332 538.7 L328.7 542.7 L324.7 546 L318 547.3 L314 551.3 L303.3 556 L300.7 558.7 L296.7 556 L293.3 558.7 L284 562.7 L278 560 L274 558.7 L270 553.3" stroke-width="1"/>
<path d="M335.3 525.3 L342 522 L344.7 520 L350 521.3 L352.7 515.3 L356.7 513.3 L363.3 512.7 L369.3 513.3 L372.7 509.3 L378 507.3 L386 508 L390 509.3" stroke-width="1"/>
<path d="M368.7 500 L371.3 505.3 L376.7 507.3" stroke-width="1"/>
<path d="M336 529.3 L336.7 537.3 L341.3 540 L342.7 548 L346 551.3 L356.7 553.3 L369.3 554 L372.7 545.3 L376.7 538.7 L380 529.3 L378.7 516 L376.7 507.3" stroke-width="1"/>
<path d="M328.7 542.7 L332.7 542.7 L335.3 544.7 L334 548 L330 551.3 L326.7 554.7 L324 560 L323.3 565.3 L324 569.3 L322.7 573.3 L324.7 578 L328.7 580 L334 578.7 L336.7 584 L339.3 586.7" stroke-width="1"/>
<path d="M372.7 553.3 L371.3 558.7 L368.7 562.7 L366 566.7 L366.7 570.7 L371.3 572 L379.3 572 L383.3 574.7 L386 580 L387.3 586.7" stroke-width="1"/>
<path d="M390 546 L386 548 L386 556 L383.3 562.7 L382.7 568 L384.7 574.7" stroke-width="1"/>
<path d="M386 508 L387.3 513.3 L388 517.3 L390 518" stroke-width="1"/>
<path d="M383.3 446.7 L385.3 448.7 L388 453.3 L390.7 457.3 L397.3 458.7 L400 458 L403.3 460 L404.7 465.3 L404 472" stroke-width="1"/>
<path d="M404 472 L396 472.7 L395.3 474.7 L397.3 480 L396.7 486.7 L395.3 493.3 L396.7 501.3 L396 505.3 L393.3 509.3 L394 512 L390.7 510.7" stroke-width="1"/>
<path d="M404 472 L406 476 L408.7 479.3 L411.3 474.7 L412.5 470" stroke-width="1"/>
<path d="M467.5 470 L472 471.3 L478.7 469.3 L483.3 469.3 L488 474.7 L493.3 480.7 L494.7 482.7" stroke-width="1"/>
<path d="M429.3 471.3 L430.7 474.7 L434.7 478.7 L437.3 484 L433.3 488 L435.3 493.3 L432 498.7 L428 503.3 L425.3 506.7 L418.7 510.7 L416 508.7 L411.3 509.3 L410 514.7 L408.7 520" stroke-width="1"/>
<path d="M430 500 L426.7 505.3 L422.7 508.7 L418 512 L415.3 509.3 L411.3 510 L410 514.7 L408 520 L406.7 525.3 L407.3 532 L408.7 538.7 L410.7 542.7 L406 546 L406.7 548.7 L412 550 L416 552.7 L416 558.7 L418.7 565.3 L422.7 569.3" stroke-width="1"/>
<path d="M385.3 506.7 L386.7 517.3 L396 518.7 L400 520.7 L402 524.7 L406.7 525.3" stroke-width="1"/>
<path d="M410.7 542.7 L405.3 540 L400 535.3 L394 534.7 L392.7 537.3 L393.3 541.3 L391.3 545.3 L386 547.3 L385.3 553.3 L386 560 L382.7 565.3 L382.7 569.3 L385.3 574.7 L386 581.3 L386 590.7" stroke-width="1"/>
<path d="M243.7 490 L245.7 494 L250.3 500 L253.7 503.3 L257.7 507.3 L261.7 508.7 L263 507.3 L269.9 508" stroke-width="1"/>
<path d="M250.3 500 L248.3 504.7 L247 511.3 L248.3 516.7 L251 517.3" stroke-width="1"/>
<path d="M251 516.7 L256.3 514 L261.7 512.7 L264.3 519.3 L262.3 526 L257.7 529.3 L253.7 528.7 L250.3 523.3 L251 516.7" stroke-width="3"/>
<path d="M253.7 520.7 L257.7 525.3" stroke-width="2"/>
<path d="M255 532.7 L259 530 L263.7 531.3 L267 534 L268.3 540 L265.7 541.3 L260.3 541.3 L256.3 538.7 L254.3 534.7 L255 532.7" stroke-width="3"/>
<path d="M268.3 540 L271 542.7 L275 543.3 L274.3 540.7 L272.3 540 L273.7 536 L277.7 534.7 L281 534" stroke-width="3"/>
<path d="M265.7 542 L264.3 547.3 L265 552.7 L268.3 555.3 L271 556 L270.3 552.7" stroke-width="2"/>
<path d="M297.3 595.3 L298.7 602" stroke-width="3"/>
<path d="M302 598 L302.7 603.3" stroke-width="3"/>
<path d="M305.3 597.3 L306 604" stroke-width="3"/>
<path d="M314 593.3 L312.7 602.7" stroke-width="3"/>
<path d="M314 593.3 L319.3 600 L322.7 602.7" stroke-width="2"/>
<path d="M330.7 590.7 L334 597.3" stroke-width="3"/>
<path d="M335.3 588 L336.7 600" stroke-width="3"/>
<path d="M338.7 587.3 L340 599.3" stroke-width="3"/>
<path d="M342 588 L343.1 594" stroke-width="2"/>
<path d="M346.7 586.7 L348 599.3" stroke-width="3"/>
<path d="M344.7 589.3 L346.7 593.3" stroke-width="2"/>
<path d="M353.3 586.7 L356.7 585.3 L358.7 592 L357.3 598.7 L354 592 L353.3 586.7" stroke-width="3"/>
<path d="M361.3 580.7 L366 585.3 L369.3 592 L372.7 593.3 L376.7 592" stroke-width="3"/>
<path d="M364.7 593.3 L368.7 596" stroke-width="2"/>
<path d="M386 585.3 L387.3 591.3" stroke-width="3"/>
<path d="M420 566 L422.7 569.3 L426 572.7 L427.3 566.7 L428.3 560.7 L430.4 564 L430.7 569.3 L433.3 572.7 L436.7 574 L437.3 577.3 L440 580 L441.3 578" stroke-width="3"/>
<path d="M422.7 568 L426.7 569.3 L425.3 572" stroke-width="3"/>
<path d="M426 574.7 L428 580 L425.3 582.7 L428.7 585.3 L431.3 583.3 L432 588 L429.3 590.7 L427.3 586.7 L428.7 585.3" stroke-width="3"/>
<path d="M557.5 326.7 L561.7 332.5 L561.7 344.2 L550 350" stroke-width="1"/>
</g>
<path d="M116.7 486.3 L116.3 480 L118.3 475 L117.5 466.7 L119.2 458.3 L117.5 453.3 L119.2 446.7 L118.3 430 L120.8 426.7 L116.7 416.7 L115.8 406.7 L114.2 401.7 L116.7 398.3 L117.5 388.3 L115.8 380 L116.7 373.3 L119.2 370 L118.3 358.3 L116.7 353.3 L119.2 346.7 L120 336.7 L127.5 335 L135.8 335.3 L139.2 328.3 L140.8 320 L140 313.3 L145 308.3 L147.5 303.3 L151.7 301.7 L150.8 295 L154.2 293 L163.3 291.7 L166.7 285.8 L167.5 279.2 L170 276.7 L169.2 274.2 L165 269.2 L166.7 265 L168.3 260 L173.3 259.2 L177 260.8 L178.3 253.3 L180 245.8 L175.8 240.8 L175 233.3 L175.8 230 L172.5 221.7 L165.8 213.3 L159.2 203.3 L164.2 192.5 L170.8 185 L166.7 179.2 L170 174.2 L168 161.7 L169.7 150 L168.7 150 L169.2 143.3 L176.7 136.7 L185.8 130 L194.2 116.7 L195.8 105 L195.8 90 L200.8 89.7 L207.5 83.3 L214.2 78.3 L220 75 L228.3 73.3 L236.7 72.2 L238.3 74.2 L246.7 74.7 L259.2 74.7 L265 68 L274.2 65.8 L283.3 69.2 L300 73.8 L309.2 77 L315 75.8 L321.7 78.3 L327.5 83.3 L331.7 90 L338.3 96.7 L344.2 106.7 L353.3 116.7 L361.7 115.3 L368.3 109.7 L380 109.7 L390 103.3 L401.7 97.2 L413.3 98.3 L421.7 101.3 L430 105.8 L437.5 113 L443.3 113 L450 119.2 L465.8 124.5 L485 126.3 L505 126.7 L513.3 116.7 L523.3 106.7 L535 100.8 L551.7 99.2 L561.7 95.3 L576.7 94.7 L600 94.7 L610 95.8 L620 99.2 L631.7 102.5 L642.5 110.8 L648.3 109.2 L657.5 111.7 L663.3 111.7 L666.7 106.7 L668.3 100 L675 98.3 L685 89.2 L693.3 86.3 L704.2 85 L708.3 78.3 L712.5 75.8 L715 80.8 L714.2 90.8 L718.3 96.7 L723.3 103.3 L730 107.5 L735 108.3 L734.2 111.7 L740.8 108.3 L745 108.3 L742.5 113.3 L737.5 115.8 L735 123.3 L734.7 131.7 L733.3 135 L738.3 137.5 L748.3 146.7 L754.2 145.8 L757.5 141.7 L760 142 L759.2 148.3 L763.3 151.3 L773.3 151.7 L778.3 154.2 L781.7 159.2 L786.7 161.7 L784.2 168.3 L785 175 L782.5 180 L780.8 187.5 L785 190.8 L784.7 198.3 L778.3 201.3 L770.8 204.2 L767.5 208.3 L759.2 214.2 L749.2 211.2 L743.3 220 L737.5 227.5 L733.3 229.7 L734.2 234.2 L728.3 243.3 L725 249.2 L725.3 255 L722.5 258.3 L723 266.7 L720 272.5 L715 276.7 L710 278.3 L709.2 283.3 L706.7 285.8 L706.7 290.8 L710 294.2 L706.7 298.3 L705.8 308.3 L695 312 L685.8 319.2 L688.3 321.7 L687.5 335 L682.5 343.3 L681.7 351.7 L677.5 354.2 L675.8 360 L670 362.5 L664.2 360 L661.7 363.3 L658.3 372.5 L650.8 371.7 L649.2 388.3 L647.5 396.7 L648.3 396.7 L641.7 406.7 L637.5 415 L638 423 L632.5 424.7 L631.7 431.7 L628.3 437.5 L630 446.7 L620 450.8 L615 455.8 L611.7 461.7 L613.3 466.7 L610 472.5 L605 475.8 L600 479.2 L586.7 479.2 L586.3 470 L578.3 469.2 L570 460 L572.5 455.8 L566.7 451.7 L558.3 446.7 L557.5 443 L555.8 446.7 L555.8 453.3 L552.5 459.2 L535.8 458.3 L533.3 450 L523.3 458.3 L515 465 L512 465 L509.2 475 L507.5 479.2 L500 482.5 L494.2 483.3 L493.3 490 L488.3 490.8 L481.7 499.2 L473.3 506.7 L466.7 511.7 L460.8 517.5 L461.7 523.3 L459.2 525.8 L464.2 530 L463.3 535.8 L460 540 L460 553.3 L456.7 557.5 L454.2 562.5 L448.3 570 L447.5 574.2 L442.5 575 L436.7 576.7 L431.7 571.7 L430 563.3 L428.3 560.8 L427.5 566.7 L421.7 568.3 L424.2 573.3 L428.3 578.3 L427.5 583.3 L431.7 585 L431.7 590 L423.3 588.3 L408.3 590 L390.8 593.3 L385.8 594.2 L375 596.7 L366.7 598.3 L355 598.3 L350 598.3 L333.3 601.7 L320 603.3 L306.7 604.2 L300 601.7 L290 594.2 L281.7 586.7 L275 576.7 L270 566.7 L266.7 558.3 L263.3 548.3 L261.7 540 L255 535.8 L253.3 530 L249.2 523.3 L246.7 518.3 L240 508.3 L231.7 500 L223.3 493.3 L215 488.3 L203.3 485.8 L186.7 484.2 L170 484.2 L155 485 L133.3 485.8 L116.7 486.3 Z" fill="none" stroke="#000" stroke-width="2" stroke-linejoin="round" shape-rendering="crispEdges"/>
<g shape-rendering="crispEdges"></g>
<g id="fao" fill="#1a1a1a" font-family="Liberation Sans, sans-serif" font-weight="bold">
<circle cx="700.9" cy="759.3" r="26.6" fill="#fff" stroke="#1a1a1a" stroke-width="3.1"/>
<path d="M685.2 740.2 L700.7 768.5 L716.3 740.2" fill="none" stroke="#1a1a1a" stroke-width="1.7"/>
<path d="M689.8 738.6 L700.7 759.5 L711.8 738.6" fill="none" stroke="#1a1a1a" stroke-width="2.8"/>
<path d="M697.3 748.5 L704.2 748.5 L705.8 758 L700.7 766 L695.7 758 Z"/>
<ellipse cx="700.7" cy="769" rx="6.6" ry="5.2"/>
<path d="M694 765 L700.7 770.5 L707.4 765" fill="none" stroke="#fff" stroke-width="0.8"/>
<path d="M695.5 759.5 L700.7 764.5 L706 759.5" fill="none" stroke="#fff" stroke-width="0.8"/>
<ellipse cx="700.7" cy="752" rx="1.5" ry="2.4" fill="#fff"/>
<ellipse cx="700.7" cy="752.3" rx="0.9" ry="1.6" fill="#444"/>
<rect x="699.8" y="772" width="1.9" height="12.8"/>
<text x="679" y="760.7" font-size="14.2">F</text>
<text x="696" y="747.8" font-size="14.2">A</text>
<text x="714.4" y="760.7" font-size="14.2" textLength="9.6" lengthAdjust="spacingAndGlyphs">O</text>
<path id="arc" d="M678.4 759.3 A22.5 22.5 0 0 0 723.4 759.3" fill="none"/>
<text font-size="6.3" letter-spacing="1.5"><textPath href="#arc" startOffset="10.3">FIAT</textPath></text>
<text font-size="6.3" letter-spacing="0.8"><textPath href="#arc" startOffset="40.3">PANIS</textPath></text>
</g>

</svg>
<div class="frame"></div>
<div class="t title">Nigeria</div>
<div class="t info" style="top:656px;font-weight:bold;letter-spacing:0.08px">Precipitation</div>
<div class="t info" style="top:686px">Dekad 3 January 2026</div>
<div class="t info" style="top:716px">FEWS NET RFE</div>
<div class="t info" style="top:746px">WGS84, Geographic Lat/Lon</div>
<div class="t lh">mm/dekad</div><div class="lhu"></div>
<div class="sw" style="top:671px;background:#c3c3c3"></div><div class="ll" style="top:672px">0</div>
<div class="sw" style="top:688px;background:#ffffcc"></div><div class="ll" style="top:689px">0 - 5</div>
<div class="sw" style="top:705px;background:#efd9b8"></div><div class="ll" style="top:706px">5 - 10</div>
<div class="sw" style="top:722px;background:#b3f9a9"></div><div class="ll" style="top:723px">10 - 20</div>
<div class="sw" style="top:739px;background:#73f073"></div><div class="ll" style="top:740px">20 - 30</div>
<div class="sw" style="top:756px;background:#38cf3f"></div><div class="ll" style="top:757px">30 - 40</div>
<div class="sw" style="top:773px;background:#b3eef8"></div><div class="ll" style="top:774px">40 - 50</div>
<div class="sw" style="top:790px;background:#4f9ff5"></div><div class="ll" style="top:791px">50 - 75</div>
<div class="sw" style="top:807px;background:#1f66e8"></div><div class="ll" style="top:808px">75 - 100</div>
<div class="sw" style="top:824px;background:#ffe57a"></div><div class="ll" style="top:825px">100 - 150</div>
<div class="sw" style="top:841px;background:#ffa000"></div><div class="ll" style="top:842px">150 - 200</div>
<div class="sw" style="top:858px;background:#ff3300"></div><div class="ll" style="top:859px">> 200</div>
<div class="sw" style="top:886px;background:#6b6b6b"></div><div class="ll" style="top:887px">missing</div>

<div class="t fao" style="top:734px;transform:scaleX(0.983)">Food and Agriculture</div>
<div class="t fao" style="top:752px;transform:scaleX(1.01)">Organization of the</div>
<div class="t fao" style="top:769px;transform:scaleX(1.0)">United Nations</div>
<div class="rule"></div>
<div class="t gi" style="top:813px;transform:scaleX(1.006)">Global Information and Early</div>
<div class="t gi" style="top:832px;transform:scaleX(0.95)">Warning System – GIEWS</div>
<div class="t disc" style="top:909px;left:15.5px;transform:scaleX(1.0788)" id="d1">Disclaimer: The boundaries and names shown and the designations used on this map do not imply the expression of any opinion whatsoever on the part of FAO</div>
<div class="t disc" style="top:923px;left:15.5px;transform:scaleX(1.0968)" id="d2">concerning the legal status of any country, territory, area or of its authorities, or concerning the delimitation of its frontiers and boundaries.</div>
</body></html>
